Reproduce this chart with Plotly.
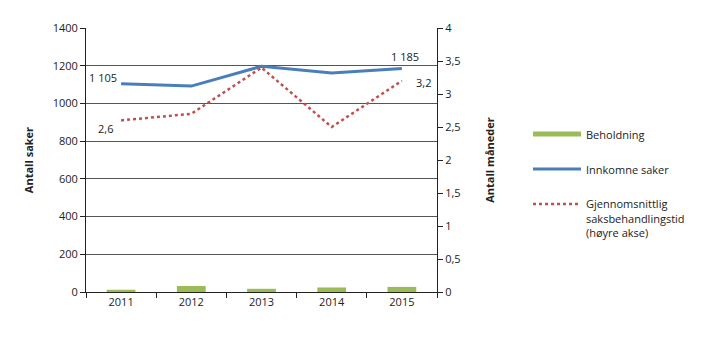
import plotly.graph_objects as go

years = ["2011", "2012", "2013", "2014", "2015"]
beholdning = [12, 32, 17, 24, 27]
innkomne = [1105, 1092, 1197, 1162, 1185]
behandlingstid = [2.6, 2.7, 3.4, 2.5, 3.2]

GREEN = "#9bbb59"
BLUE = "#4a7ebb"
RED = "#c0504d"
FONT = "Open Sans"
TXT = "#222222"

fig = go.Figure()

fig.add_trace(go.Bar(
    x=years, y=beholdning, width=0.41, marker=dict(color=GREEN, line=dict(width=0)),
    name="Beholdning", showlegend=False, yaxis="y"))
# legend entry for the bars, drawn as a thick line
fig.add_trace(go.Scatter(
    x=[None], y=[None], mode="lines", line=dict(color=GREEN, width=5),
    name="Beholdning", legendgroup="a", yaxis="y"))
fig.add_trace(go.Scatter(
    x=years, y=innkomne, mode="lines", line=dict(color=BLUE, width=3),
    name="Innkomne saker", legendgroup="b", yaxis="y"))
fig.add_trace(go.Scatter(
    x=years, y=behandlingstid, mode="lines", line=dict(color=RED, width=2.5, dash="dot"),
    name="Gjennomsnittlig<br>saksbehandlingstid<br>(høyre akse)", legendgroup="c", yaxis="y2"))


def fmt_int(v):
    return f"{v:,}".replace(",", " ")


def fmt_dec(v):
    return f"{v:.1f}".replace(".", ",")


first, last = 0, len(years) - 1
lab_font = dict(family=FONT, size=11, color=TXT)
fig.add_annotation(x=first, y=innkomne[first], xref="x", yref="y", text=fmt_int(innkomne[first]),
                   xanchor="right", yanchor="middle", xshift=-2, yshift=6,
                   showarrow=False, font=lab_font)
fig.add_annotation(x=last, y=innkomne[last], xref="x", yref="y", text=fmt_int(innkomne[last]),
                   xanchor="center", yanchor="bottom", xshift=3, yshift=3,
                   showarrow=False, font=lab_font)
fig.add_annotation(x=first, y=behandlingstid[first], xref="x", yref="y2",
                   text=fmt_dec(behandlingstid[first]), xanchor="right", yanchor="middle",
                   xshift=-6, yshift=-8, showarrow=False, font=lab_font)
fig.add_annotation(x=last, y=behandlingstid[last], xref="x", yref="y2",
                   text=fmt_dec(behandlingstid[last]), xanchor="left", yanchor="middle",
                   xshift=12, yshift=-2, showarrow=False, font=lab_font)

fig.update_layout(
    width=720, height=341,
    margin=dict(l=86, r=283, t=28, b=49),
    paper_bgcolor="white", plot_bgcolor="white",
    font=dict(family=FONT, size=11, color=TXT),
    xaxis=dict(
        type="category", range=[-0.5, 4.5], showgrid=False,
        showline=True, linecolor=TXT, linewidth=1,
        ticks="outside", tickson="boundaries", ticklen=5, tickcolor=TXT,
        tickfont=dict(size=11)),
    yaxis=dict(
        range=[0, 1400], dtick=200, showgrid=True, gridcolor="#555555", gridwidth=1,
        showline=True, linecolor=TXT, linewidth=1,
        ticks="outside", ticklen=5, tickcolor=TXT, zeroline=False,
        title=dict(text="<b>Antall saker</b>", font=dict(size=11), standoff=16),
        tickfont=dict(size=11)),
    yaxis2=dict(
        range=[0, 4], dtick=0.5, overlaying="y", side="right", showgrid=False,
        showline=True, linecolor=TXT, linewidth=1,
        ticks="outside", ticklen=5, tickcolor=TXT, zeroline=False,
        tickformat=".1~f",
        title=dict(text="<b>Antall måneder</b>", font=dict(size=11), standoff=26),
        tickfont=dict(size=11)),
    separators=", ",
    legend=dict(
        x=(528 - 86) / 351, y=0.65, xanchor="left", yanchor="top",
        bgcolor="rgba(0,0,0,0)", font=dict(size=11),
        tracegroupgap=16, itemwidth=48, valign="top"),
)

fig.write_html("out.html")
